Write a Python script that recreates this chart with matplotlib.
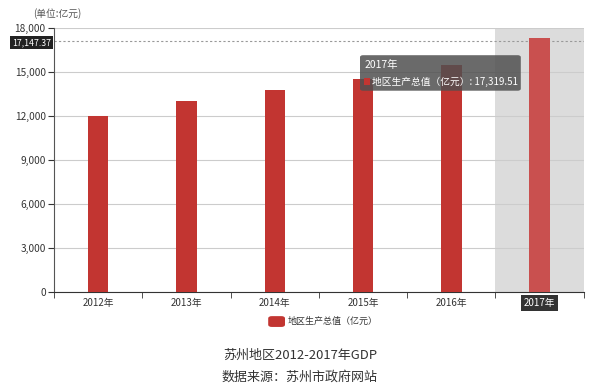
import matplotlib.pyplot as plt
from matplotlib.patches import FancyBboxPatch, Rectangle

plt.rcParams['font.family'] = ['Noto Sans CJK SC', 'DejaVu Sans']

years = ['2012年', '2013年', '2014年', '2015年', '2016年', '2017年']
gdp = [12011.65, 13015.70, 13760.89, 14504.07, 15475.09, 17319.51]
mark_value = 17147.37
y_ticks = [0, 3000, 6000, 9000, 12000, 15000, 18000]
series_name = '地区生产总值（亿元）'
title = '苏州地区2012-2017年GDP'
subtitle = '数据来源：苏州市政府网站'

fig = plt.figure(figsize=(6, 3.86), dpi=100)
ax = fig.add_axes([0.09, 0.243, 0.883, 0.684])

x = list(range(len(years)))
hi = len(years) - 1

# hover shadow on the last category
ax.axvspan(hi - 0.5, hi + 0.5, color='#dcdcdc', zorder=0, lw=0)

colors = ['#c23531'] * hi + ['#c9504f']
ax.bar(x, gdp, width=0.23, color=colors, zorder=3)

ax.set_xlim(-0.5, hi + 0.5)
ax.set_ylim(0, 18000)
ax.set_yticks(y_ticks)
ax.set_yticklabels(['{:,}'.format(v) for v in y_ticks], fontsize=7.3, color='#333333')
ax.set_xticks(x)
ax.set_xticklabels(years, fontsize=7, color='#333333')
ax.tick_params(axis='x', length=0, pad=4)
ax.set_xticks([i - 0.5 for i in range(len(years) + 1)], minor=True)
ax.tick_params(axis='x', which='minor', length=4, color='#333333')
ax.tick_params(axis='y', length=4, color='#333333', pad=2)
ax.grid(axis='y', color='#cccccc', lw=0.8, zorder=1)
for s in ['top', 'right']:
    ax.spines[s].set_visible(False)
ax.spines['left'].set_color('#555555')
ax.spines['bottom'].set_color('#333333')

# highlight tick label for 2017
lbl = ax.get_xticklabels()[hi]
lbl.set_color('white')
lbl.set_bbox(dict(boxstyle='square,pad=0.3', fc='#333333', ec='none'))

# mark line
ax.axhline(mark_value, color='#999999', ls=(0, (2, 2)), lw=0.8, zorder=2)
ax.text(-0.006, mark_value - 150, '{:,.2f}'.format(mark_value), transform=ax.get_yaxis_transform(),
        ha='right', va='center', fontsize=6.3, color='white',
        bbox=dict(boxstyle='square,pad=0.22', fc='#222222', ec='none'), zorder=5)

fig.text(0.055, 0.965, '(单位:亿元)', fontsize=7, color='#555555', va='center')

# tooltip
tip = FancyBboxPatch((0.60, 0.765), 0.268, 0.092, boxstyle='round,pad=0,rounding_size=0.005',
                     transform=fig.transFigure, fc='#505050', ec='none', alpha=0.85, zorder=10)
fig.patches.append(tip)
fig.text(0.607, 0.832, years[hi], fontsize=7.5, color='white', va='center', zorder=11)
fig.patches.append(Rectangle((0.606, 0.78), 0.011, 0.017, transform=fig.transFigure,
                             fc='#c23531', ec='none', zorder=11))
fig.text(0.62, 0.788, '{}: {:,.2f}'.format(series_name, gdp[hi]), fontsize=7, color='white',
         va='center', zorder=11)

# legend
leg = FancyBboxPatch((0.447, 0.153), 0.028, 0.028, boxstyle='round,pad=0,rounding_size=0.006',
                     transform=fig.transFigure, fc='#c23531', ec='none')
fig.patches.append(leg)
fig.text(0.48, 0.167, series_name, fontsize=6.5, color='#333333', va='center')

fig.text(0.5, 0.08, title, fontsize=9.4, color='#333333', ha='center', va='center')
fig.text(0.5, 0.023, subtitle, fontsize=9.4, color='#333333', ha='center', va='center')

fig.savefig('out.png', dpi=100)
